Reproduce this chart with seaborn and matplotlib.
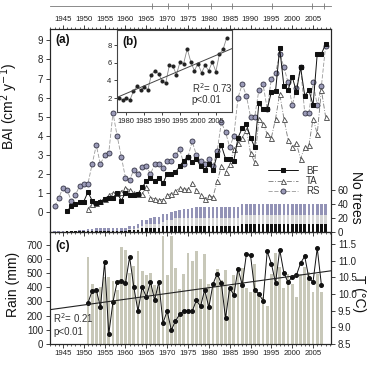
import numpy as np
import seaborn as sns
import matplotlib
matplotlib.use("Agg")
from matplotlib import pyplot as plt
from matplotlib.ticker import FixedLocator, MultipleLocator, FormatStrFormatter

sns.set_theme(style="ticks")
plt.rcParams['font.family'] = ['Liberation Sans', 'DejaVu Sans']
plt.rcParams['axes.linewidth'] = 0.8

# ---- panel (a): basal area increment per species (cm2 y-1)
rs_years = np.arange(1943, 2009)
rs_bai = [0.30, 0.72, 1.28, 1.15, 0.59, 0.89, 1.37, 1.49, 1.49, 2.5,
          3.5, 2.5, 3.0, 3.1, 5.2, 4.0, 2.9, 1.8, 1.7, 2.2,
          2.0, 2.35, 2.4, 2.0, 2.5, 2.5, 2.3, 2.7, 2.7, 3.0,
          3.3, 2.5, 2.9, 3.7, 3.0, 2.7, 2.5, 2.8, 2.4, 3.2,
          4.7, 4.2, 3.4, 4.0, 6.0, 6.7, 6.1, 5.0, 5.0, 6.4,
          6.7, 5.4, 7.0, 7.3, 8.3, 7.6, 6.8, 5.6, 6.5, 7.6,
          5.2, 5.2, 6.8, 5.6, 6.6, 8.7]

bf_years = np.arange(1946, 2009)
bf_bai = [0.05, 0.3, 0.4, 0.5, 0.55, 1.05, 0.6, 0.45, 0.55, 0.7,
          0.75, 0.75, 1.0, 0.6, 1.0, 0.9, 0.9, 0.95, 1.3, 1.6,
          1.8, 1.6, 1.8, 1.5, 2.0, 2.0, 2.1,
          2.4, 2.7, 2.9, 2.6, 2.8, 2.4, 2.2, 2.5, 2.2, 3.0,
          3.5, 2.8, 2.8, 2.7, 3.9, 4.4, 4.6, 3.9, 3.4, 5.7,
          5.4, 5.4, 6.3, 6.35, 8.6, 6.6, 6.4, 7.1, 6.3, 7.6,
          6.1, 6.4, 5.6, 8.3, 8.3, 8.8]

ta_years = np.arange(1951, 2009)
ta_bai = [0.15, 0.42, 0.45, 0.6, 0.7, 0.9, 1.0, 1.0, 1.07, 1.28,
          1.15, 1.0, 0.95, 0.95, 1.3, 0.75, 0.7, 0.65, 0.65, 0.9,
          0.95, 1.1, 1.25, 1.2, 1.2, 1.5, 1.15, 0.9, 0.68, 0.85,
          0.8, 1.6, 2.4, 2.1, 2.5, 3.3, 3.6, 3.9, 4.3, 3.1,
          2.6, 4.9, 4.6, 4.1, 3.9, 4.9, 6.2, 4.9, 3.8, 3.4,
          3.6, 2.8, 3.4, 3.5, 4.9, 4.1, 6.4, 5.0]

# number of sampled trees per year and species
tree_years = np.arange(1943, 2009)
n_bf = np.array([0, 0, 0, 1, 1, 1, 1, 1, 1, 1,
                 1, 1, 1, 1, 1, 1, 1, 1, 3, 3,
                 3, 6, 6, 6, 6, 6, 9, 9, 9, 9,
                 9, 9, 9, 9, 9, 9, 9, 9, 9, 9,
                 9, 9, 9, 9, 9, 12, 12, 12, 12, 12,
                 12, 12, 12, 12, 12, 12, 12, 12, 12, 12,
                 12, 12, 12, 12, 12, 12])
n_ta = np.array([0, 0, 0, 0, 0, 0, 0, 0, 1, 1,
                 1, 1, 1, 1, 1, 1, 1, 1, 2, 2,
                 3, 3, 5, 5, 5, 5, 5, 8, 8, 11,
                 11, 11, 11, 11, 11, 11, 11, 11, 11, 11,
                 11, 11, 11, 11, 11, 12, 12, 12, 12, 12,
                 12, 12, 12, 12, 12, 12, 12, 12, 12, 12,
                 12, 12, 12, 12, 12, 12])
n_rs = np.array([1, 1, 1, 1, 1, 1, 2, 2, 2, 3,
                 4, 4, 4, 4, 4, 4, 4, 4, 3, 4,
                 6, 8, 6, 9, 10, 11, 12, 9, 11, 10,
                 11, 13, 13, 14, 16, 16, 16, 16, 16, 16,
                 16, 16, 16, 16, 16, 16, 16, 16, 16, 16,
                 16, 16, 16, 16, 16, 16, 16, 16, 16, 16,
                 16, 16, 16, 16, 16, 16])

# ---- panel (b): mean BAI since 1978
b_years = np.arange(1978, 2009)
b_bai = [2.03, 1.78, 2.03, 1.78, 2.79, 3.35, 2.9, 3.27, 2.9, 4.66,
         5.1, 4.78, 3.9, 3.7, 5.7, 5.6, 4.66, 6.1, 5.9, 7.58,
         6.1, 5.1, 5.9, 4.86, 5.7, 5.1, 6.1, 5.0, 7.0, 7.5, 8.8]

# ---- panel (c): climate
clim_years = np.arange(1951, 2008)
rain = [617, 422, 382, 400, 476, 476, 445, 382, 683, 660,
        500, 547, 657, 518, 488, 500, 417, 400, 759, 488,
        759, 535,
        388, 496, 640, 585, 657, 460, 633, 424, 412, 532,
        448, 520, 388, 484, 544, 537, 393, 364, 563, 348,
        329, 269, 496, 640, 544, 393, 496, 424, 329, 496,
        544, 508, 364, 496, 364]
temp = [9.73, 10.09, 10.12, 9.61, 10.96, 8.8, 9.76, 10.36, 10.39, 10.33,
        11.11, 10.21, 9.49, 10.21, 9.91, 10.36, 9.82, 10.36, 9.13, 9.49,
        8.92,
        9.19, 9.39, 9.5, 9.5, 9.48, 9.81, 9.63, 10.12, 9.6, 10.3,
        10.61, 10.32, 9.27, 10.18, 9.97, 10.76, 10.27, 11.19, 11.16, 10.12,
        10.0, 9.8, 11.28, 10.91, 10.33, 11.33, 10.63, 10.35, 10.52, 10.56,
        10.93, 11.13, 10.47, 10.37, 11.38, 10.27]

year_ticks = list(range(1945, 2006, 5))
XLIM = (1941.9, 2009.3)

W, H = 368, 365
fig = plt.figure(figsize=(W / 100, H / 100), dpi=100)


def box(l, t, r, b):
    return [l / W, 1 - b / H, (r - l) / W, (b - t) / H]


ax_a = fig.add_axes(box(50, 29, 331, 232))
ax_n = ax_a.twinx()
ax_c = fig.add_axes(box(50, 232, 331, 344))
ax_t = ax_c.twinx()
ax_b = fig.add_axes(box(117, 30, 232, 112))
ax_top = fig.add_axes(box(50, 5, 331, 6))

ax_a.set_zorder(ax_n.get_zorder() + 1)
ax_a.patch.set_visible(False)
ax_b.set_zorder(20)

tick_col = '#222222'

# number of trees, stacked from the back
bar_kw = dict(native_scale=True, ax=ax_n, width=0.62, saturation=1,
              errorbar=None, linewidth=0)
sns.barplot(x=tree_years, y=n_bf + n_ta + n_rs, color='#9393b6', **bar_kw)
sns.barplot(x=tree_years, y=n_bf + n_ta, color='#d6d6d6', **bar_kw)
sns.barplot(x=tree_years, y=n_bf, color='#111111', **bar_kw)

# BAI series
sns.lineplot(x=rs_years, y=rs_bai, ax=ax_a, color='#9a9a9a', linewidth=0.6,
             linestyle=(0, (5, 2)), marker='o', markersize=3.6,
             markerfacecolor='#9b9bb8', markeredgecolor='#333344',
             markeredgewidth=0.6, label='RS')
sns.lineplot(x=ta_years, y=ta_bai, ax=ax_a, color='#777777', linewidth=0.6,
             linestyle=(0, (6, 2, 1, 2)), marker='^', markersize=3.6,
             markerfacecolor='white', markeredgecolor='#444444',
             markeredgewidth=0.6, label='TA')
sns.lineplot(x=bf_years, y=bf_bai, ax=ax_a, color='#111111', linewidth=0.7,
             marker='s', markersize=3.4, markerfacecolor='#111111',
             markeredgecolor='#111111', label='BF')

h, l = ax_a.get_legend_handles_labels()
order = [l.index('BF'), l.index('TA'), l.index('RS')]
ax_a.legend([h[i] for i in order], [l[i] for i in order],
            loc='center left', bbox_to_anchor=((268 - 50) / 281, (232 - 181) / 203),
            frameon=False, fontsize=7, labelspacing=0.05, handlelength=3.1,
            handletextpad=0.8, borderpad=0, borderaxespad=0, labelcolor='#333333')

for ax in (ax_a, ax_n, ax_c, ax_t):
    ax.set_xlim(*XLIM)

ax_a.set_ylim(-1.05, 9.6)
ax_a.yaxis.set_major_locator(FixedLocator(range(0, 10)))
ax_a.xaxis.set_major_locator(FixedLocator(year_ticks))
ax_a.xaxis.set_minor_locator(MultipleLocator(1))
ax_a.tick_params(axis='x', which='both', top=True, labeltop=True,
                 bottom=True, labelbottom=False, direction='out', colors=tick_col,
                 labelsize=5.6, pad=1.5)
ax_a.tick_params(axis='x', which='major', length=3, width=0.6)
ax_a.tick_params(axis='x', which='minor', length=1.6, width=0.5)
ax_a.tick_params(axis='y', labelsize=7, length=3, width=0.6, colors=tick_col, pad=2)
ax_a.set_xlabel('')
ax_a.set_ylabel('BAI (cm$^2$ y$^{-1}$)', fontsize=10, color='#111111')
ax_a.yaxis.set_label_coords(-0.105, 0.62)
ax_a.text(0.018, 0.945, '(a)', transform=ax_a.transAxes, fontsize=8.5,
          fontweight='bold', va='center', color='#111111')

ax_n.set_ylim(0, 290)
ax_n.yaxis.set_major_locator(FixedLocator([0, 20, 40, 60]))
ax_n.tick_params(axis='y', labelsize=7, length=3, width=0.6, colors=tick_col, pad=2)
ax_n.set_xlabel('')
ax_n.set_ylabel('No trees', fontsize=10, rotation=270, color='#111111')
ax_n.yaxis.set_label_coords(1.115, 0.17)

# inset (b)
sns.lineplot(x=b_years, y=b_bai, ax=ax_b, color='#888888', linewidth=0.6,
             marker='o', markersize=2.2, markerfacecolor='#222222',
             markeredgecolor='#222222')
b_lim = (1977.4, 2009.5)
b_fit = np.polyfit(b_years, b_bai, 1)
ax_b.plot(b_lim, np.polyval(b_fit, b_lim), color='#444444', linewidth=0.7)
ax_b.set_xlim(*b_lim)
ax_b.set_ylim(0.43, 9.7)
ax_b.xaxis.set_major_locator(FixedLocator(range(1980, 2006, 5)))
ax_b.yaxis.set_major_locator(FixedLocator([2, 4, 6, 8]))
ax_b.tick_params(labelsize=5.5, length=2.5, width=0.6, colors=tick_col, pad=1.5)
ax_b.set_xlabel('')
ax_b.set_ylabel('')
for s in ax_b.spines.values():
    s.set_color('#444444')
ax_b.text(0.043, 0.855, '(b)', transform=ax_b.transAxes, fontsize=8.5,
          fontweight='bold', va='center', color='#111111')
ax_b.text(0.65, 0.29, 'R$^2$= 0.73', transform=ax_b.transAxes, fontsize=7,
          va='center', color='#333333')
ax_b.text(0.65, 0.145, 'p<0.01', transform=ax_b.transAxes, fontsize=7,
          va='center', color='#333333')

# panel (c): rain bars and temperature
sns.barplot(x=clim_years, y=rain, native_scale=True, ax=ax_c,
            color='#c8c8b9', width=0.68, saturation=1, errorbar=None, linewidth=0)
sns.lineplot(x=clim_years, y=temp, ax=ax_t, color='#111111', linewidth=0.7,
             marker='o', markersize=2.8, markerfacecolor='#111111',
             markeredgecolor='#111111')
t_fit = np.polyfit(clim_years, temp, 1)
ax_t.plot(XLIM, np.polyval(t_fit, XLIM), color='#222222', linewidth=0.8)

for ax in (ax_c, ax_t):
    ax.set_xlim(*XLIM)
ax_c.set_ylim(0, 790)
ax_c.yaxis.set_major_locator(FixedLocator(range(0, 701, 100)))
ax_c.xaxis.set_major_locator(FixedLocator(year_ticks))
ax_c.xaxis.set_minor_locator(MultipleLocator(1))
ax_c.tick_params(axis='x', which='both', top=False, direction='out',
                 colors=tick_col, labelsize=5.6, pad=1.5)
ax_c.tick_params(axis='x', which='major', length=3, width=0.6)
ax_c.tick_params(axis='x', which='minor', length=1.6, width=0.5)
ax_c.tick_params(axis='y', labelsize=7, length=3, width=0.6, colors=tick_col, pad=2)
ax_c.set_xlabel('')
ax_c.set_ylabel('Rain (mm)', fontsize=10, color='#111111')
ax_c.yaxis.set_label_coords(-0.105, 0.53)
ax_c.text(0.018, 0.875, '(c)', transform=ax_c.transAxes, fontsize=8.5,
          fontweight='bold', va='center', color='#111111')
ax_c.text(0.012, 0.23, 'R$^2$= 0.21', transform=ax_c.transAxes, fontsize=7,
          va='center', color='#333333')
ax_c.text(0.012, 0.105, 'p<0.01', transform=ax_c.transAxes, fontsize=7,
          va='center', color='#333333')

ax_t.set_ylim(8.5, 11.86)
ax_t.yaxis.set_major_locator(FixedLocator(np.arange(8.5, 11.6, 0.5)))
ax_t.yaxis.set_major_formatter(FormatStrFormatter('%.1f'))
ax_t.tick_params(axis='y', labelsize=7, length=3, width=0.6, colors=tick_col, pad=2)
ax_t.set_xlabel('')
ax_t.set_ylabel('T (°C)', fontsize=10, rotation=270, color='#111111')
ax_t.yaxis.set_label_coords(1.125, 0.45)

# thin rule with a few ticks along the very top
ax_top.set_xlim(*XLIM)
ax_top.patch.set_visible(False)
for side in ('top', 'left', 'right'):
    ax_top.spines[side].set_visible(False)
ax_top.spines['bottom'].set_color('#777777')
ax_top.spines['bottom'].set_linewidth(0.6)
ax_top.set_yticks([])
ax_top.xaxis.set_major_locator(FixedLocator([1966.3, 1970.3, 1975, 1980.4,
                                             1985.6, 1995.2, 2004.8, 2007.6]))
ax_top.tick_params(axis='x', direction='inout', length=4, width=0.6,
                   colors='#777777', labelbottom=False)

fig.savefig('out.png', dpi=100)
